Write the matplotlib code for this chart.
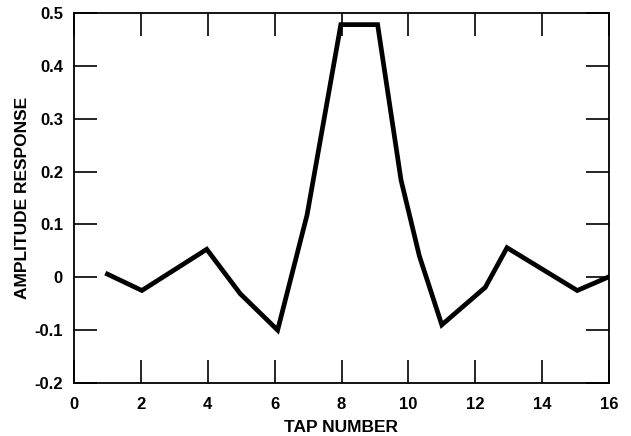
import matplotlib
matplotlib.use('Agg')
import matplotlib.pyplot as plt

# tap response
tap = [1.0, 2.03, 3.97, 4.97, 6.09, 6.97, 7.98, 9.08, 9.78, 10.33, 11.0, 12.3, 12.95, 15.05, 16.0]
amplitude = [0.006, -0.025, 0.053, -0.031, -0.100, 0.118, 0.478, 0.478, 0.184, 0.040, -0.090, -0.019, 0.056, -0.025, 0.001]

x_ticks = [0, 2, 4, 6, 8, 10, 12, 14, 16]
y_ticks = [-0.2, -0.1, 0, 0.1, 0.2, 0.3, 0.4, 0.5]
y_labels = ['-0.2', '-0.1', '0', '0.1', '0.2', '0.3', '0.4', '0.5']

plt.rcParams['font.family'] = ['Liberation Sans', 'DejaVu Sans']
plt.rcParams['font.weight'] = 'bold'

fig = plt.figure(figsize=(6.31, 4.36), dpi=100)
ax = fig.add_axes([74/631, 1-383/436, (609-74)/631, (383-13)/436])

ax.plot(tap, amplitude, color='black', lw=3.4, solid_joinstyle='miter')

ax.set_xlim(0, 16)
ax.set_ylim(-0.2, 0.5)
ax.set_xticks(x_ticks)
ax.set_yticks(y_ticks)
ax.set_yticklabels(y_labels)
ax.tick_params(direction='in', length=16.5, width=1.2, top=True, right=True,
               labelsize=12)
ax.tick_params(axis='x', pad=10)
ax.tick_params(axis='y', pad=8)
for lab in ax.get_xticklabels() + ax.get_yticklabels():
    lab.set_fontweight('bold')
for s in ax.spines.values():
    s.set_linewidth(1.3)

ax.set_xlabel('TAP NUMBER', fontsize=12.5, fontweight='bold', labelpad=6)
ax.set_ylabel('AMPLITUDE RESPONSE', fontsize=12.5, fontweight='bold', labelpad=3)

fig.savefig('out.png', dpi=100)
